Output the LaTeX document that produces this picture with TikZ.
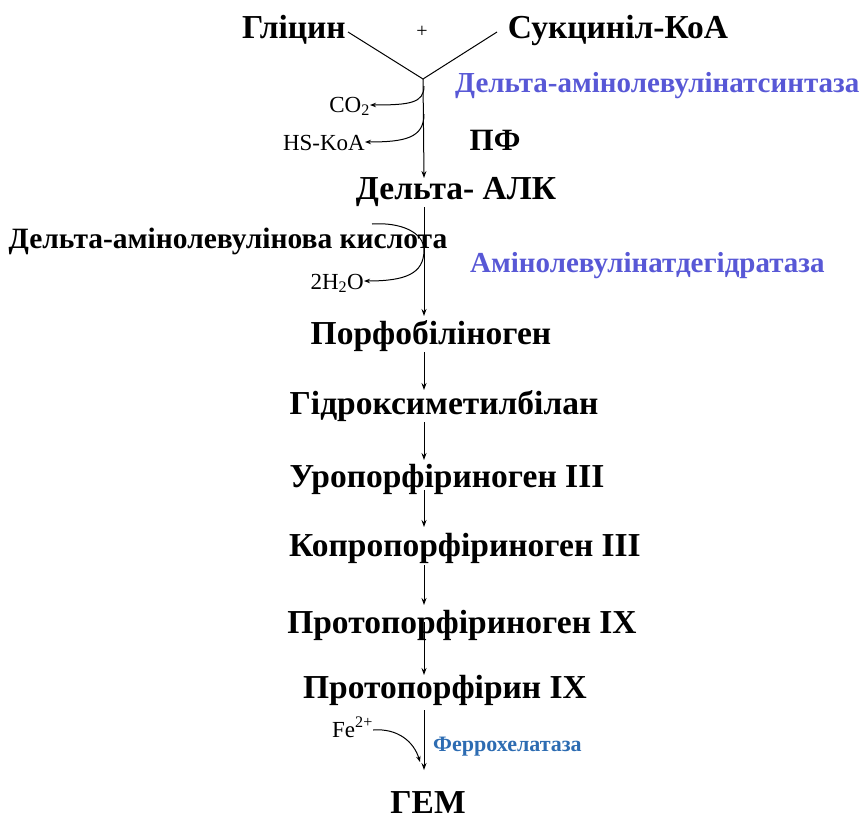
\documentclass[tikz,border=0pt]{standalone}
\usepackage{fontspec}
\setmainfont{Liberation Serif}
\usetikzlibrary{arrows.meta}
\definecolor{enzpurple}{RGB}{88,88,214}
\definecolor{enzblue}{RGB}{45,108,178}
\tikzset{
  compound/.style={inner sep=0pt, anchor=base, font=\fontsize{33.5}{33.5}\selectfont\bfseries},
  enzyme/.style={inner sep=0pt, anchor=base west, text=enzpurple, font=\fontsize{29}{29}\selectfont\bfseries},
  side/.style={inner sep=0pt, font=\fontsize{23}{23}\selectfont},
  flow/.style={line width=1pt, -{Stealth[length=7pt,width=5pt]}},
  branch/.style={line width=1pt, -{Stealth[length=6pt,width=4.5pt]}},
}
\begin{document}
\begin{tikzpicture}[x=1pt,y=-1pt]
\useasboundingbox (0,0) rectangle (866,822);

% substrates
\node[compound] (gly) at (294,38) {Гліцин};
\node[compound] (suc) at (618,38) {Сукциніл-КоА};
\node[side, font=\fontsize{20}{20}\selectfont] (plus) at (422,32) {+};
\coordinate (gE) at (348,32);
\coordinate (sE) at (497,32);
\coordinate (v0) at (423,79);
\draw[line width=1pt] (gE) -- (v0) -- (sE);

% enzymes and labels
\node[enzyme] (als) at (455,92) {Дельта-амінолевулінатсинтаза};
\node[compound, font=\fontsize{31}{31}\selectfont\bfseries] (pf) at (495,150) {ПФ};
\node[enzyme] (alad) at (470,272) {Амінолевулінатдегідратаза};
\node[inner sep=0pt, anchor=base west, text=enzblue, font=\fontsize{22}{22}\selectfont\bfseries] (fch) at (433,751) {Феррохелатаза};

% pathway intermediates
\node[compound] (ala) at (456,199) {Дельта- АЛК};
\node[compound, font=\fontsize{29.5}{29.5}\selectfont\bfseries] (alaf) at (228,248) {Дельта-амінолевулінова кислота};
\node[compound] (pbg) at (431,344) {Порфобіліноген};
\node[compound] (hmb) at (444,414) {Гідроксиметилбілан};
\node[compound] (uro) at (447,487) {Уропорфіриноген III};
\node[compound] (copro) at (465,556) {Копропорфіриноген III};
\node[compound] (protog) at (462,633) {Протопорфіриноген IX};
\node[compound] (proto) at (445,698) {Протопорфірин IX};
\node[compound] (heme) at (428,813) {ГЕМ};

% side products
\node[side, anchor=base east] (co2) at (370,112) {CO\textsubscript{2}};
\node[side, anchor=base east] (hskoa) at (365,150) {HS-KoA};
\node[side, anchor=base east] (h2o) at (364,289) {2H\textsubscript{2}O};
\node[side, anchor=base west] (fe) at (332,737) {Fe\textsuperscript{2+}};

% main axis
\coordinate (a1) at (424,178);
\coordinate (b1) at (424,207);
\coordinate (a2) at (424,316);
\coordinate (b2) at (424,352);
\coordinate (a3) at (424,390);
\coordinate (b3) at (424,422);
\coordinate (a4) at (424,460);
\coordinate (b4) at (424,490);
\coordinate (a5) at (424,527);
\coordinate (b5) at (424,565);
\coordinate (a6) at (424,605);
\coordinate (b6) at (424,622);
\coordinate (a7) at (424,675);
\coordinate (b7) at (424,710);
\coordinate (a8) at (424,770);

\draw[flow] (v0) -- (a1);
\draw[flow] (b1) -- (a2);
\draw[flow] (b2) -- (a3);
\draw[flow] (b3) -- (a4);
\draw[flow] (b4) -- (a5);
\draw[flow] (b5) -- (a6);
\draw[flow] (b6) -- (a7);
\draw[flow] (b7) -- (a8);

% branches
\coordinate (c1) at (424,86);
\coordinate (c2) at (424,114);
\draw[branch] (c1) .. controls (424,103) and (410,105) .. (co2.east |- 0,105);
\draw[branch] (c2) .. controls (424,138) and (405,142) .. (hskoa.east |- 0,142);
\coordinate (w0) at (372,224);
\coordinate (w1) at (424,250);
\draw[branch] (w0) .. controls (400,222) and (424,232) .. (w1)
  .. controls (424,274) and (405,281) .. (h2o.east |- 0,281);
\coordinate (f1) at (420,762);
\draw[branch] (fe.east |- 0,730) .. controls (398,728) and (414,742) .. (f1);
\end{tikzpicture}
\end{document}
